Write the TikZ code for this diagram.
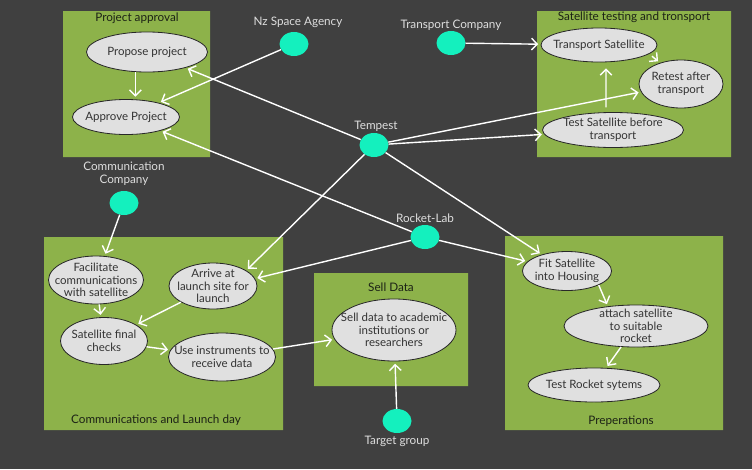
\documentclass[tikz,border=0pt]{standalone}
\usepackage{fontspec}
\setmainfont{Lato}
\usetikzlibrary{shapes.geometric, arrows.meta}

\definecolor{bgdark}{RGB}{64,64,64}
\definecolor{boxgreen}{RGB}{141,178,74}
\definecolor{actorteal}{RGB}{20,240,190}
\definecolor{ellfill}{RGB}{224,224,224}
\definecolor{ellline}{RGB}{40,40,40}
\definecolor{lblgrey}{RGB}{222,222,222}
\definecolor{titledark}{RGB}{28,34,22}

\tikzset{
    usecase/.style = {ellipse, draw = ellline, line width = 0.7pt, fill = ellfill, align = center,
        inner xsep = -9pt, inner ysep = -2.5pt, text = black!80, font = \fontsize{9.8}{10.8}\selectfont},
    actor/.style = {ellipse, fill = actorteal, minimum width = 0.87cm, minimum height = 0.72cm, inner sep = 0pt},
    actorlabel/.style = {text = lblgrey, align = center, inner sep = 0pt, font = \fontsize{10}{11}\selectfont},
    boxtitle/.style = {text = titledark, inner sep = 0pt, font = \fontsize{10}{11}\selectfont},
}

\begin{document}
\begin{tikzpicture}[x = 0.03cm, y = -0.03cm, >={Straight Barb[length=5pt, width=10pt]}]
        \fill [bgdark] (0, 0) rectangle (752, 469);
        \fill [boxgreen]
            (63, 11) rectangle (210, 157)
            (537, 11) rectangle (731, 157)
            (44, 237) rectangle (283, 430)
            (314, 273) rectangle (468, 386)
            (505, 236) rectangle (723, 430);

        \path
            (137, 18) node [boxtitle] (approvaltitle) {Project approval}
            (634, 17) node [boxtitle] (testingtitle) {Satellite testing and tronsport}
            (156, 420) node [boxtitle] (launchtitle) {Communications and Launch day}
            (391, 287) node [boxtitle] (selltitle) {Sell Data}
            (621, 421) node [boxtitle] (preptitle) {Preperations}

            (147, 52) node [usecase, minimum width = 3.63cm, minimum height = 1.2cm] (propose) {Propose project}
            (126, 117) node [usecase, minimum width = 3.21cm, minimum height = 1.05cm] (approve) {Approve Project}
            (599, 45) node [usecase, minimum width = 3.48cm, minimum height = 1.02cm] (transport) {Transport Satellite}
            (681, 84) node [usecase, minimum width = 2.52cm, minimum height = 1.44cm] (retest) {Retest after\\transport}
            (613, 130) node [usecase, minimum width = 4.23cm, minimum height = 1.05cm] (testbefore) {Test Satellite before\\transport}
            (96, 280) node [usecase, minimum width = 2.85cm, minimum height = 1.44cm] (facilitate) {Facilitate\\communications\\with satellite}
            (213, 286) node [usecase, minimum width = 2.64cm, minimum height = 1.38cm] (arrive) {Arrive at\\launch site for\\launch}
            (104, 341) node [usecase, minimum width = 2.61cm, minimum height = 1.41cm] (finalchecks) {Satellite final\\checks}
            (222, 357) node [usecase, minimum width = 3.21cm, minimum height = 1.44cm] (instruments) {Use instruments to\\receive data}
            (394, 330) node [usecase, minimum width = 3.72cm, minimum height = 1.86cm] (selldata) {Sell data to academic\\institutions or\\researchers}
            (567, 271) node [usecase, minimum width = 2.67cm, minimum height = 1.17cm] (fit) {Fit Satellite\\into Housing}
            (636, 326) node [usecase, minimum width = 4.32cm, minimum height = 1.26cm] (attach) {attach satellite\\to suitable\\rocket}
            (594, 385) node [usecase, minimum width = 3.96cm, minimum height = 1.02cm] (testrocket) {Test Rocket sytems}

            (294, 44) node [actor] (nzsa) {}
            (298, 22) node [actorlabel] (nzsalabel) {Nz Space Agency}
            (451, 43) node [actor] (transportco) {}
            (451, 25) node [actorlabel] (transportcolabel) {Transport Company}
            (374, 145) node [actor] (tempest) {}
            (376, 126) node [actorlabel] (tempestlabel) {Tempest}
            (124, 203) node [actor] (commco) {}
            (124, 174) node [actorlabel] (commcolabel) {Communication\\Company}
            (425, 237) node [actor] (rocketlab) {}
            (425, 218) node [actorlabel] (rocketlablabel) {Rocket-Lab}
            (397, 421) node [actor] (target) {}
            (397, 441) node [actorlabel] (targetlabel) {Target group};

        \draw [white, line width = 1.2pt, shorten > = 2pt]
            (propose.240) edge [->] (propose.240 |- approve.north)
            (nzsa) edge [->] (approve)
            (tempest) edge [->] (propose)
            (rocketlab) edge [->] (approve)
            (transportco) edge [->] (transport)
            (tempest) edge [->] (retest)
            (tempest) edge [->] (testbefore)
            ([xshift = -0.21cm]testbefore.north) edge [->, shorten < = 4pt, shorten > = 5pt] ([xshift = 0.21cm]transport.south)
            (transport.-10) edge [->, shorten < = 3pt] (retest.135)

            (tempest) edge [->] (fit)
            (rocketlab) edge [->] (fit)
            (tempest) edge [->] (arrive.25)
            (rocketlab) edge [->] (arrive.10)

            (commco) edge [->] (facilitate)
            (facilitate) edge [->] (finalchecks)
            (arrive) edge [->] (finalchecks)
            (finalchecks) edge [->] (instruments)
            (instruments) edge [->] (selldata)
            (target) edge [->] (selldata)

            (fit.south east) edge [->] (attach.145)
            (attach) edge [->] (testrocket)
            ;
    \end{tikzpicture}
\end{document}
